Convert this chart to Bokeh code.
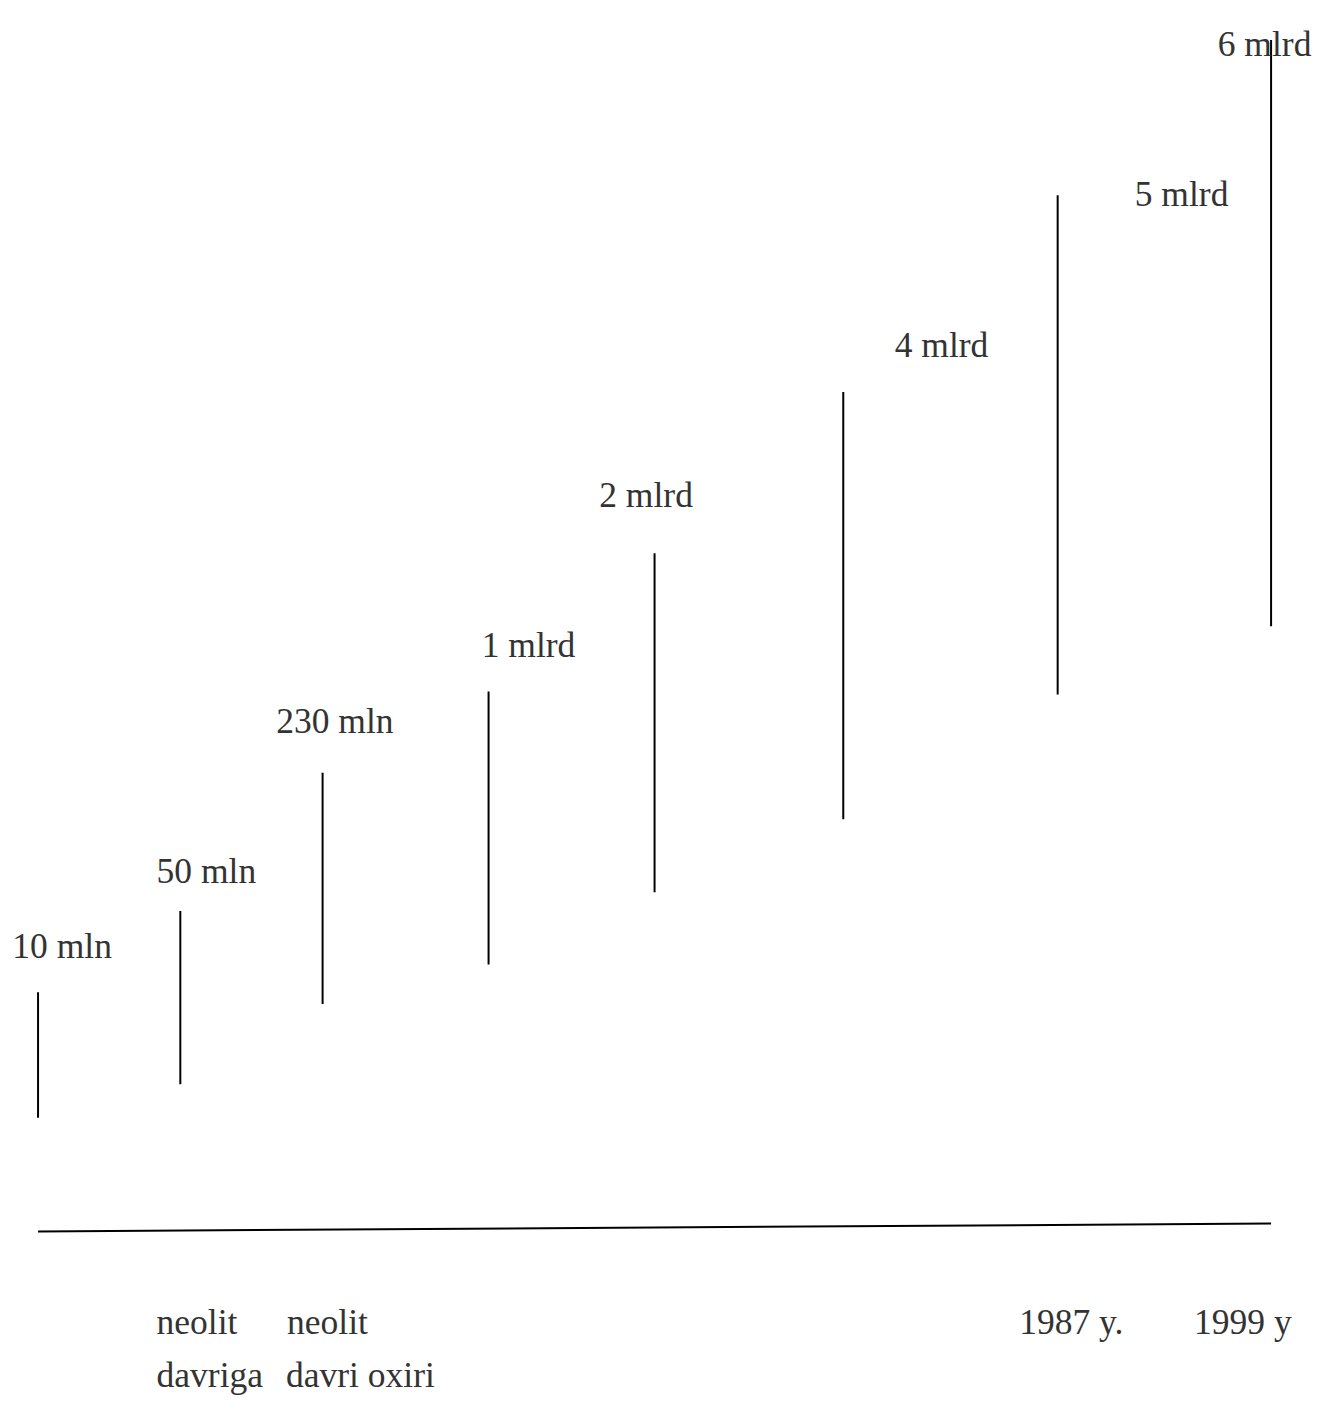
from bokeh.plotting import figure
from bokeh.models import Range1d, ColumnDataSource
from bokeh.core.properties import value
from bokeh.embed import file_html
from bokeh.resources import INLINE

# --- data (diagram coordinates: units of the original drawing, origin top-left) ---
pop_labels = ["10 mln", "50 mln", "230 mln", "1 mlrd", "2 mlrd", "4 mlrd", "5 mlrd", "6 mlrd"]
stage_x = [38, 182, 326, 494, 662, 853, 1070, 1286]
stage_top = [1003, 921, 781, 699, 559, 396, 197, 40]
stage_bottom = [1130, 1096, 1015, 975, 902, 828, 702, 633]
label_x = [12, 158, 279, 487, 606, 905, 1148, 1232]
label_y = [956, 880, 729, 652, 500, 348, 196, 44]

axis_x = [38, 1286]
axis_y = [1245, 1237]

era_labels = ["neolit", "neolit", "1987 y.", "1999 y", "davriga", "davri oxiri"]
era_x = [158, 290, 1031, 1208, 158, 289]
era_y = [1337, 1337, 1337, 1337, 1390, 1390]

DRAW_W, DRAW_H = 1334, 1418
W, H = 1318, 1402
p = figure(width=W, height=H, output_backend="svg", toolbar_location=None,
           x_range=Range1d(0, DRAW_W), y_range=Range1d(DRAW_H, 0),
           min_border=0, outline_line_color=None)
p.axis.visible = False
p.xgrid.visible = False
p.ygrid.visible = False
p.background_fill_color = "white"
p.border_fill_color = "white"

src = ColumnDataSource(dict(x=stage_x, top=stage_top, bottom=stage_bottom))
p.segment(x0="x", y0="top", x1="x", y1="bottom", source=src,
          line_color="black", line_width=2)

p.line(axis_x, axis_y, line_color="black", line_width=2)

FS = "35.5px"
lsrc = ColumnDataSource(dict(x=label_x, y=label_y, t=pop_labels))
p.text(x="x", y="y", text="t", source=lsrc, text_font=value("Liberation Serif"),
       text_font_size=FS, text_color="#333333",
       text_align="left", text_baseline="alphabetic")

esrc = ColumnDataSource(dict(x=era_x, y=era_y, t=era_labels))
p.text(x="x", y="y", text="t", source=esrc, text_font=value("Liberation Serif"),
       text_font_size=FS, text_color="#333333",
       text_align="left", text_baseline="alphabetic")

open("out.html", "w").write(file_html(p, INLINE))
